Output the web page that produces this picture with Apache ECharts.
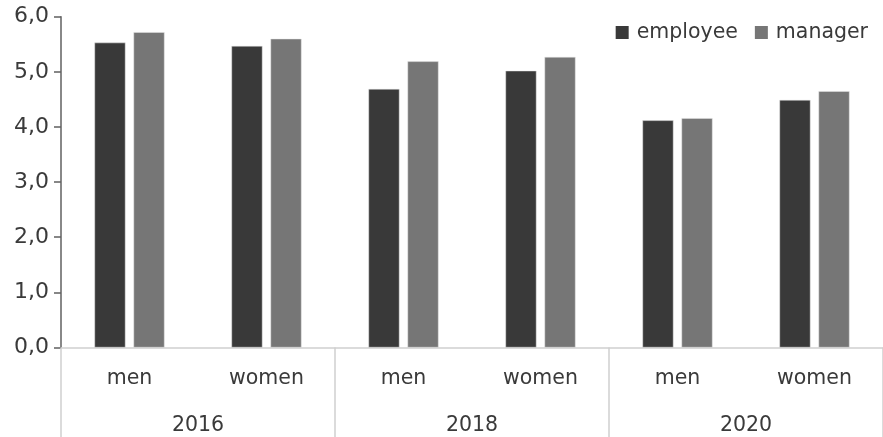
<!DOCTYPE html>
<html>
<head>
<meta charset="utf-8">
<script src="https://cdn.jsdelivr.net/npm/echarts@6/dist/echarts.min.js"></script>
<style>html,body{margin:0;padding:0;background:#fff;}#c{width:883px;height:437px;}</style>
</head>
<body>
<div id="c"></div>
<script>
const groups = ['men', 'women', 'men', 'women', 'men', 'women'];
const years = ['2016', '2018', '2020'];
const employee = [5.53, 5.47, 4.69, 5.02, 4.12, 4.49];
const manager = [5.72, 5.60, 5.19, 5.27, 4.16, 4.65];
const seriesNames = ['employee', 'manager'];

const font = 'DejaVu Sans';
const chart = echarts.init(document.getElementById('c'), null, {renderer: 'canvas'});
chart.setOption({
  animation: false,
  backgroundColor: '#ffffff',
  grid: {left: 61, right: -5, top: 16.7, bottom: 89.5, containLabel: false},
  legend: {
    data: seriesNames,
    right: 10, top: 17,
    itemWidth: 13, itemHeight: 13, itemGap: 17,
    icon: 'rect',
    itemStyle: {borderWidth: 0},
    textStyle: {fontFamily: font, fontSize: 20.5, color: '#3a3a3a', padding: [0, 0, 0, 3]}
  },
  xAxis: [
    {
      type: 'category', data: groups, position: 'bottom',
      axisLine: {show: true, lineStyle: {color: '#d0d0d0', width: 1.5}},
      axisTick: {show: false},
      axisLabel: {fontFamily: font, fontSize: 20.5, color: '#3a3a3a', margin: 21}
    },
    {
      type: 'category', data: years, position: 'bottom', offset: 0,
      axisLine: {show: false},
      axisTick: {show: true, length: 92, lineStyle: {color: '#d0d0d0', width: 1.5}},
      axisLabel: {fontFamily: font, fontSize: 20.5, color: '#3a3a3a', margin: 68}
    }
  ],
  yAxis: {
    type: 'value', min: 0, max: 6, interval: 1,
    axisLine: {show: true, lineStyle: {color: '#606060', width: 1.5}},
    axisTick: {show: true, length: 7, lineStyle: {color: '#606060', width: 1.5}},
    splitLine: {show: false},
    axisLabel: {
      fontFamily: font, fontSize: 22, color: '#3a3a3a', margin: 12,
      formatter: v => v.toFixed(1).replace('.', ',')
    }
  },
  series: [
    {name: seriesNames[0], type: 'bar', xAxisIndex: 0, data: employee, barWidth: 31, barGap: '26%',
     itemStyle: {color: '#393939', borderColor: '#e6e6e6', borderWidth: 0.5}},
    {name: seriesNames[1], type: 'bar', xAxisIndex: 0, data: manager, barWidth: 31,
     itemStyle: {color: '#767676', borderColor: '#e6e6e6', borderWidth: 0.5}}
  ]
});
</script>
</body>
</html>
